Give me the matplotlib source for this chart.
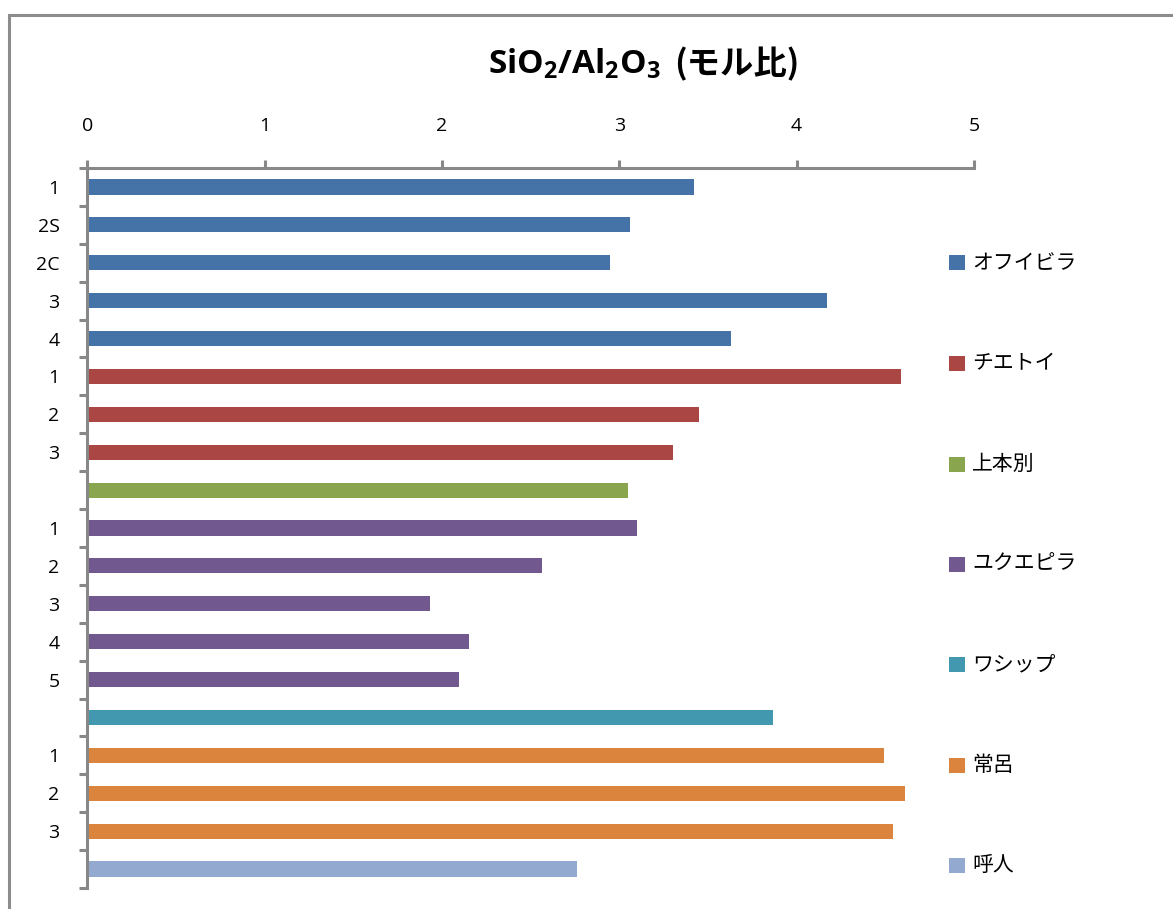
import matplotlib
matplotlib.use("Agg")
import matplotlib.pyplot as plt
from matplotlib.patches import Rectangle

plt.rcParams['font.family'] = ['Open Sans', 'Noto Sans CJK JP', 'DejaVu Sans']
plt.rcParams['mathtext.default'] = 'regular'

# SiO2/Al2O3 molar ratio per sample, grouped by site
groups = ["オフイビラ", "チエトイ", "上本別", "ユクエピラ", "ワシップ", "常呂", "呼人"]
colors = ["#4572A7", "#AA4643", "#89A54E", "#71588F", "#4198AF", "#DB843D", "#93A9CF"]

ofuibira_labels = ["1", "2S", "2C", "3", "4"]
ofuibira_vals = [3.42, 3.06, 2.95, 4.17, 3.63]
chietoi_labels = ["1", "2", "3"]
chietoi_vals = [4.59, 3.45, 3.30]
kamihonbetsu_labels = [""]
kamihonbetsu_vals = [3.05]
yukuepira_labels = ["1", "2", "3", "4", "5"]
yukuepira_vals = [3.10, 2.565, 1.93, 2.15, 2.095]
washippu_labels = [""]
washippu_vals = [3.865]
tokoro_labels = ["1", "2", "3"]
tokoro_vals = [4.49, 4.61, 4.545]
yobito_labels = [""]
yobito_vals = [2.76]

series = [
    (ofuibira_labels, ofuibira_vals),
    (chietoi_labels, chietoi_vals),
    (kamihonbetsu_labels, kamihonbetsu_vals),
    (yukuepira_labels, yukuepira_vals),
    (washippu_labels, washippu_vals),
    (tokoro_labels, tokoro_vals),
    (yobito_labels, yobito_vals),
]

W, H = 1173, 909
fig = plt.figure(figsize=(W / 100, H / 100), dpi=100)
fig.patch.set_facecolor("white")

# outer chart border (only top and left edges are in view)
fig.patches.append(Rectangle((9 / W, -0.1), 1.2, 1 - 15 / H + 0.1,
                             transform=fig.transFigure, fill=False,
                             edgecolor="#8c8c8c", linewidth=2.2))

ax = fig.add_axes([87.3 / W, 1 - 888 / H, (974 - 87.3) / W, (888 - 168) / H])

all_labels, all_vals, all_cols = [], [], []
for (labs, vals), c in zip(series, colors):
    all_labels += labs
    all_vals += vals
    all_cols += [c] * len(vals)

n = len(all_vals)
ypos = list(range(n))
ax.barh(ypos, all_vals, height=0.4, color=all_cols, edgecolor="none")

ax.set_ylim(n - 0.5, -0.5)
ax.set_xlim(0, 5)
ax.xaxis.tick_top()
ax.set_xticks(range(6))
ax.set_xticklabels([str(i) for i in range(6)])

ax.set_yticks(ypos)
ax.set_yticklabels(all_labels)
ax.set_yticks([i - 0.5 for i in range(n + 1)], minor=True)

gray = "#888888"
for s in ["right", "bottom"]:
    ax.spines[s].set_visible(False)
for s in ["top", "left"]:
    ax.spines[s].set_color(gray)
    ax.spines[s].set_linewidth(2.2)

ax.tick_params(axis="x", which="major", direction="out", length=6, width=2.2,
               color=gray, labelsize=14, pad=18, top=True, bottom=False)
ax.tick_params(axis="y", which="major", length=0, labelsize=14, pad=20)
ax.tick_params(axis="y", which="minor", direction="out", length=6, width=2.2,
               color=gray)

# axis title: chemical formula with subscripts, then the Japanese unit
title_y = 1 - 74 / H
t1 = fig.text(488 / W, title_y, r"SiO$_2$/Al$_2$O$_3$", ha="left",
              va="baseline", fontsize=24, fontweight="bold")
fig.canvas.draw()
bb = t1.get_window_extent(renderer=fig.canvas.get_renderer())
fig.text((bb.x1 + 14) / W, title_y, "(モル比)", ha="left", va="baseline",
         fontsize=24, fontweight="bold",
         family=["Noto Sans CJK JP", "DejaVu Sans"])

# legend: colour swatch and site name, one per group
leg_y = [263, 363, 464, 564, 664, 765, 865]
for g, c, yy in zip(groups, colors, leg_y):
    fig.patches.append(Rectangle((949 / W, 1 - (yy + 7.5) / H), 16 / W, 15 / H,
                                 transform=fig.transFigure, facecolor=c,
                                 edgecolor="none"))
    fig.text(972 / W, 1 - yy / H, g, ha="left", va="center", fontsize=15,
             family=["Noto Sans CJK JP", "DejaVu Sans"])

fig.savefig("out.png", dpi=100, facecolor="white")
